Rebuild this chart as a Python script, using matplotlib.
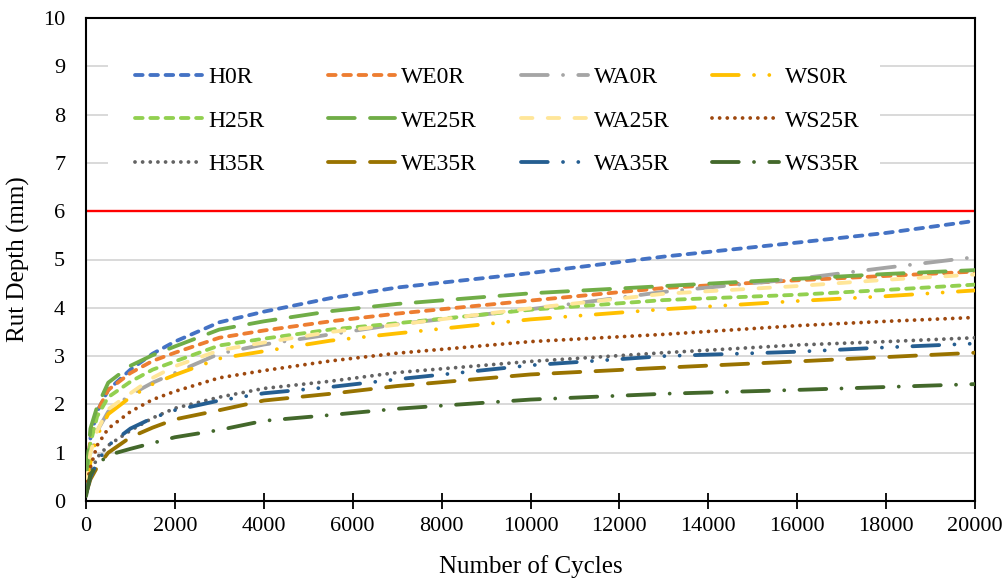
import matplotlib
matplotlib.use('Agg')
import matplotlib.pyplot as plt
from matplotlib.patches import Rectangle

plt.rcParams['font.family'] = ['Liberation Serif', 'DejaVu Serif']

# ---- data ----
cycles = [0, 100, 250, 500, 1000, 1500, 2000, 3000, 4000, 5500, 7000, 10000, 13000, 16000, 18000, 20000]

H0R   = [0.35, 1.30, 1.85, 2.30, 2.72, 3.05, 3.30, 3.70, 3.92, 4.20, 4.42, 4.72, 5.06, 5.35, 5.55, 5.80]
WE0R  = [0.40, 1.30, 1.85, 2.30, 2.65, 2.90, 3.07, 3.38, 3.53, 3.72, 3.88, 4.15, 4.41, 4.57, 4.66, 4.75]
WA0R  = [0.30, 0.90, 1.45, 1.85, 2.20, 2.45, 2.65, 3.05, 3.24, 3.45, 3.66, 3.97, 4.33, 4.60, 4.83, 5.05]
WS0R  = [0.30, 0.80, 1.35, 1.80, 2.15, 2.42, 2.61, 2.95, 3.10, 3.32, 3.47, 3.76, 3.97, 4.14, 4.24, 4.36]
H25R  = [0.40, 1.20, 1.75, 2.15, 2.47, 2.72, 2.89, 3.22, 3.36, 3.55, 3.68, 3.96, 4.16, 4.27, 4.37, 4.48]
WE25R = [0.50, 1.50, 1.95, 2.45, 2.80, 3.02, 3.20, 3.55, 3.72, 3.93, 4.08, 4.30, 4.45, 4.60, 4.70, 4.78]
WA25R = [0.35, 1.00, 1.45, 1.90, 2.23, 2.55, 2.79, 3.12, 3.28, 3.50, 3.65, 3.99, 4.29, 4.45, 4.58, 4.69]
WS25R = [0.25, 0.70, 1.15, 1.50, 1.85, 2.10, 2.27, 2.55, 2.70, 2.90, 3.06, 3.30, 3.45, 3.63, 3.72, 3.80]
H35R  = [0.20, 0.55, 0.90, 1.15, 1.46, 1.72, 1.92, 2.15, 2.33, 2.48, 2.66, 2.89, 3.07, 3.23, 3.30, 3.38]
WE35R = [0.15, 0.45, 0.70, 1.00, 1.32, 1.52, 1.69, 1.88, 2.08, 2.22, 2.38, 2.62, 2.76, 2.89, 2.98, 3.07]
WA35R = [0.15, 0.50, 0.80, 1.15, 1.50, 1.72, 1.88, 2.08, 2.23, 2.36, 2.52, 2.81, 3.00, 3.09, 3.18, 3.26]
WS35R = [0.10, 0.55, 0.75, 0.95, 1.08, 1.20, 1.32, 1.47, 1.66, 1.78, 1.91, 2.10, 2.22, 2.30, 2.36, 2.42]

limit = 6
x_ticks = [0, 2000, 4000, 6000, 8000, 10000, 12000, 14000, 16000, 18000, 20000]
y_ticks = [0, 1, 2, 3, 4, 5, 6, 7, 8, 9, 10]

# ---- styles ----
sys_dash = (2, 2)
dash = (3, 4)
lg_dash = (7, 4)
lg_dash_dot = (7, 4, 0.001, 4)
lg_dash_dot_dot = (7, 4, 0.001, 4, 0.001, 4)
sys_dot = (0.001, 2)

series = [
    ('H0R', H0R, '#4472C4', sys_dash),
    ('WE0R', WE0R, '#ED7D31', sys_dash),
    ('WA0R', WA0R, '#A5A5A5', lg_dash_dot),
    ('WS0R', WS0R, '#FFC000', lg_dash_dot_dot),
    ('H25R', H25R, '#92D050', sys_dash),
    ('WE25R', WE25R, '#70AD47', lg_dash),
    ('WA25R', WA25R, '#FFE699', dash),
    ('WS25R', WS25R, '#9E480E', sys_dot),
    ('H35R', H35R, '#636363', sys_dot),
    ('WE35R', WE35R, '#997300', lg_dash),
    ('WA35R', WA35R, '#255E91', lg_dash_dot_dot),
    ('WS35R', WS35R, '#43682B', lg_dash_dot),
]

fig = plt.figure(figsize=(10.05, 5.79), dpi=100)
ax = fig.add_axes([86 / 1005, 78 / 579, 889 / 1005, 483 / 579])

handles = {}
for name, ys, col, dsh in series:
    ln, = ax.plot(cycles, ys, color=col, lw=2.75, dashes=dsh,
                  dash_capstyle='round', solid_capstyle='round',
                  dash_joinstyle='round', label=name, zorder=3)
    handles[name] = ln

ax.axhline(limit, color='#FF0000', lw=1.7, zorder=2.5)

ax.set_xlim(0, 20000)
ax.set_ylim(0, 10)
ax.set_xticks(x_ticks)
ax.set_yticks(y_ticks)
ax.set_xticklabels([str(v) for v in x_ticks])
ax.set_yticklabels([str(v) for v in y_ticks])
ax.set_axisbelow(True)
ax.yaxis.grid(True, color='#D9D9D9', lw=1.4)
ax.xaxis.grid(False)

ax.tick_params(axis='x', direction='inout', length=11, width=1.3, pad=6, labelsize=16)
ax.tick_params(axis='y', length=0, pad=15, labelsize=16)
for sp in ax.spines.values():
    sp.set_color('black')
    sp.set_linewidth(1.5)

ax.set_xlabel('Number of Cycles', fontsize=18, labelpad=14)
ax.set_ylabel('Rut Depth (mm)', fontsize=18, labelpad=9)

# white backdrop for the legend
ax.add_patch(Rectangle((0.0247, 0.644), 0.868, 0.30, transform=ax.transAxes,
                       facecolor='white', edgecolor='none', zorder=1))

cols = [['H0R', 'H25R', 'H35R'], ['WE0R', 'WE25R', 'WE35R'],
        ['WA0R', 'WA25R', 'WA35R'], ['WS0R', 'WS25R', 'WS35R']]
xa = [0.0551, 0.2722, 0.4893, 0.7041]
legs = []
for names, x0 in zip(cols, xa):
    lg = ax.legend([handles[n] for n in names], names, loc='upper left',
                   bbox_to_anchor=(x0, 0.899), bbox_transform=ax.transAxes,
                   frameon=False, fontsize=17, handlelength=2.84,
                   handletextpad=0.25, labelspacing=0.92, borderpad=0,
                   borderaxespad=0)
    legs.append(lg)
for lg in legs[:-1]:
    ax.add_artist(lg)

fig.savefig('out.png', dpi=100)
